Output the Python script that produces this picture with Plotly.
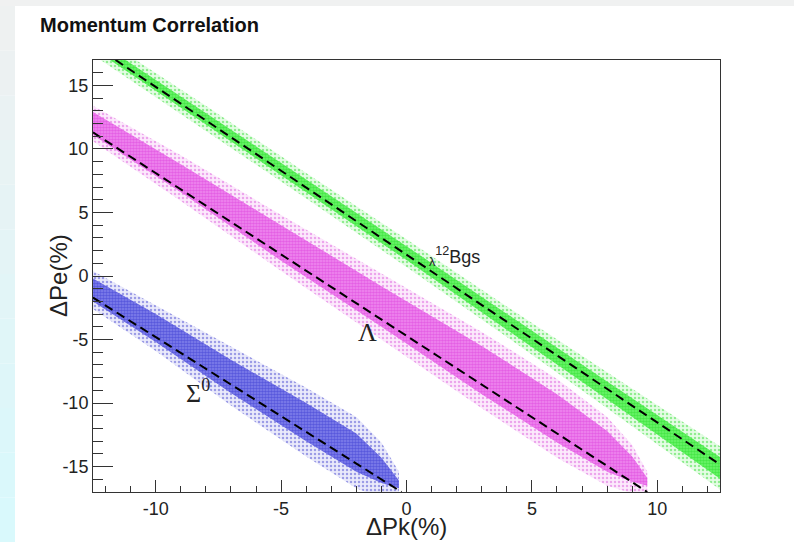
import plotly.graph_objects as go

# ---------------- data ----------------
# dashed fit lines (endpoints, in %)
green_line_x = [-11.6, 12.4]
green_line_y = [17.0, -14.7]
magenta_line_x = [-12.5, 9.6]
magenta_line_y = [11.3, -17.0]
blue_line_x = [-12.5, -0.2]
blue_line_y = [-1.7, -17.0]

# scatter bands: x, band centre, core half-width, halo half-width
green_x = [-12.5, -8, -4, 0, 4, 8, 12.5]
green_c = [18.3, 12.4, 7.1, 1.8, -3.6, -9.0, -15.1]
green_core = [0.4, 0.45, 0.5, 0.55, 0.6, 0.7, 0.85]
green_halo = [0.9, 1.0, 1.0, 1.1, 1.2, 1.4, 1.7]

magenta_x = [-12.5, -9, -5, -1, 3, 6, 8, 9.0, 9.6]
magenta_c = [12.0, 7.7, 2.6, -2.4, -7.4, -11.2, -13.8, -15.2, -16.2]
magenta_core = [0.9, 1.1, 1.4, 1.6, 1.9, 1.9, 1.6, 1.0, 0.3]
magenta_halo = [1.4, 1.8, 2.2, 2.6, 3.0, 3.1, 2.7, 1.9, 0.8]

blue_x = [-12.5, -10, -7, -4, -2, -1.0, -0.3]
blue_c = [-1.1, -4.1, -7.9, -11.5, -13.9, -15.3, -16.4]
blue_core = [0.9, 1.1, 1.3, 1.5, 1.5, 1.0, 0.3]
blue_halo = [1.5, 1.8, 2.3, 2.7, 2.8, 2.2, 1.0]

x_tickvals = [-10, -5, 0, 5, 10]
x_ticktext = ["-10", "-5", "0", "5", "10"]
y_tickvals = [-15, -10, -5, 0, 5, 10, 15]
y_ticktext = ["-15", "-10", "-5", "0", "5", "10", "15"]

x_range = [-12.5, 12.5]
y_range = [-17, 17]

# ---------------- figure ----------------
fig = go.Figure()


def band(xs, cs, hw, color, pattern=None):
    upper = [c + h for c, h in zip(cs, hw)]
    lower = [c - h for c, h in zip(cs, hw)]
    px = list(xs) + list(xs)[::-1]
    py = upper + lower[::-1]
    kw = dict(x=px, y=py, mode="lines", fill="toself", fillcolor=color,
              line=dict(width=0), hoverinfo="skip", showlegend=False)
    if pattern is not None:
        kw["fillpattern"] = pattern
    fig.add_trace(go.Scatter(**kw))


# halos (sparse speckles)
band(green_x, green_c, green_halo, "rgba(150,245,150,0.25)",
     dict(shape=".", fgcolor="rgba(40,220,40,0.9)", size=4, solidity=0.3))
band(magenta_x, magenta_c, magenta_halo, "rgba(245,170,245,0.25)",
     dict(shape=".", fgcolor="rgba(215,70,215,0.85)", size=4, solidity=0.3))
band(blue_x, blue_c, blue_halo, "rgba(170,170,240,0.25)",
     dict(shape=".", fgcolor="rgba(50,50,200,0.85)", size=4, solidity=0.3))
# cores (dense speckles)
band(green_x, green_c, green_core, "rgba(0,0,0,0)",
     dict(shape=".", fgcolor="rgb(30,215,30)", bgcolor="rgb(110,245,110)", size=3, solidity=0.6))
band(magenta_x, magenta_c, magenta_core, "rgba(0,0,0,0)",
     dict(shape=".", fgcolor="rgb(215,50,215)", bgcolor="rgb(240,140,240)", size=3, solidity=0.6))
band(blue_x, blue_c, blue_core, "rgba(0,0,0,0)",
     dict(shape=".", fgcolor="rgb(45,45,205)", bgcolor="rgb(130,130,235)", size=3, solidity=0.6))

# dashed fit lines
for lx, ly in [(green_line_x, green_line_y), (magenta_line_x, magenta_line_y),
               (blue_line_x, blue_line_y)]:
    fig.add_trace(go.Scatter(x=lx, y=ly, mode="lines",
                             line=dict(color="black", width=2, dash="9px,5px"),
                             hoverinfo="skip", showlegend=False))

# background strips of the page
shapes = [dict(type="rect", xref="paper", yref="paper",
               x0=-93 / 627, x1=701 / 627, y0=486 / 432, y1=492 / 432,
               fillcolor="#f0f1f1", line=dict(width=0), layer="below")]
n = 12
for i in range(n):
    t = i / (n - 1)
    r = int(238 + (217 - 238) * t)
    g = int(241 + (249 - 241) * t)
    b = int(241 + (252 - 241) * t)
    y_top = 6 + (536 / n) * i
    y_bot = 6 + (536 / n) * (i + 1)
    shapes.append(dict(type="rect", xref="paper", yref="paper",
                       x0=-93 / 627, x1=-78 / 627,
                       y0=(492 - y_bot) / 432, y1=(492 - y_top) / 432,
                       fillcolor=f"rgb({r},{g},{b})", line=dict(width=0), layer="below"))

annotations = [
    dict(x=0.8, y=1.5, xref="x", yref="y", xanchor="left", yanchor="middle",
         text="<sub>λ</sub><sup>12</sup>Bgs", showarrow=False,
         font=dict(family="Liberation Sans", size=18, color="#222")),
    dict(x=-1.54, y=-4.45, xref="x", yref="y", xanchor="center", yanchor="middle",
         text="Λ", showarrow=False,
         font=dict(family="Liberation Serif", size=26, color="#222")),
    dict(x=-8.3, y=-9.1, xref="x", yref="y", xanchor="center", yanchor="middle",
         text="Σ<sup>0</sup>", showarrow=False,
         font=dict(family="Liberation Serif", size=26, color="#222")),
    # axis titles
    dict(x=0.5, y=(492 - 526) / 432, xref="paper", yref="paper",
         xanchor="center", yanchor="middle", text="ΔPk(%)", showarrow=False,
         font=dict(family="Liberation Sans", size=24, color="#222")),
    dict(x=(58 - 93) / 627, y=0.5, xref="paper", yref="paper", textangle=-90,
         xanchor="center", yanchor="middle", text="ΔPe(%)", showarrow=False,
         font=dict(family="Liberation Sans", size=24, color="#222")),
]

fig.update_layout(
    width=794, height=542,
    margin=dict(l=93, r=74, t=60, b=50, autoexpand=False),
    paper_bgcolor="white", plot_bgcolor="white",
    title=dict(text="<b>Momentum Correlation</b>", xref="container", yref="container",
               x=40 / 794, xanchor="left", y=1 - 25 / 542, yanchor="middle",
               font=dict(family="Liberation Sans", size=20, color="#111")),
    shapes=shapes, annotations=annotations,
    font=dict(family="Liberation Sans", color="#222"),
)

fig.update_xaxes(range=x_range, showgrid=False, zeroline=False, automargin=False,
                 showline=True, linecolor="#333", linewidth=1, mirror=True,
                 ticks="inside", ticklen=12, tickcolor="#333",
                 tickmode="array", tickvals=x_tickvals, ticktext=x_ticktext,
                 ticklabelstandoff=0,
                 minor=dict(dtick=1, tick0=0, ticks="inside", ticklen=6, tickcolor="#333"),
                 tickfont=dict(family="Liberation Sans", size=18, color="#222"))
fig.update_yaxes(range=y_range, showgrid=False, zeroline=False, automargin=False,
                 showline=True, linecolor="#333", linewidth=1, mirror=True,
                 ticks="inside", ticklen=20, tickcolor="#333",
                 tickmode="array", tickvals=y_tickvals, ticktext=y_ticktext,
                 minor=dict(dtick=1, tick0=0, ticks="inside", ticklen=10, tickcolor="#333"),
                 tickfont=dict(family="Liberation Sans", size=18, color="#222"))

fig.write_html("out.html")
